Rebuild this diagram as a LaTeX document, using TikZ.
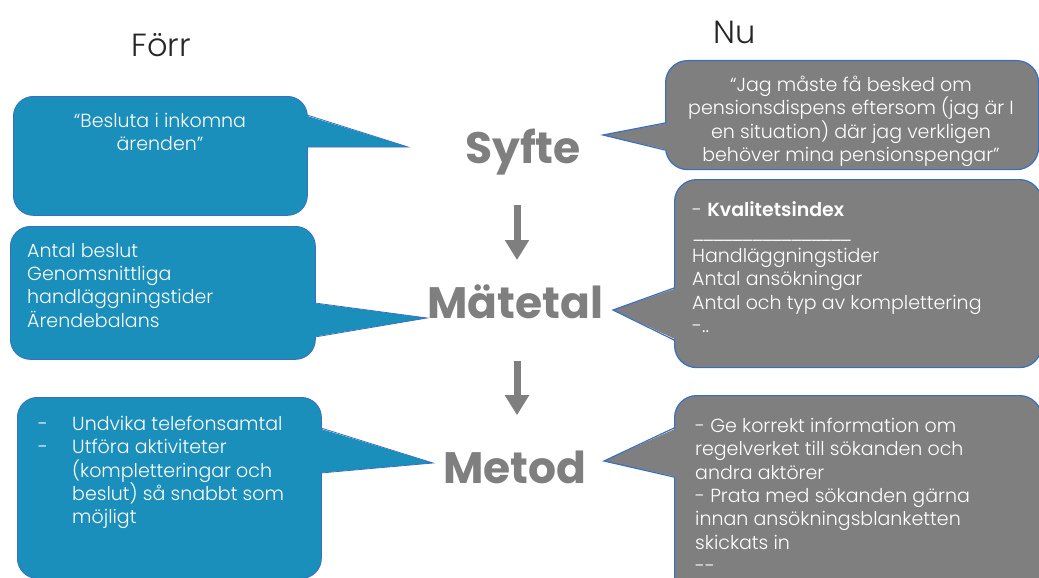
\documentclass[tikz,border=0pt]{standalone}
\usepackage{fontspec}
\setmainfont{Poppins}
\newfontfamily\lightfont{Poppins Light}
\usetikzlibrary{arrows.meta}
\definecolor{boxblue}{HTML}{1A8FBB}
\definecolor{boxgray}{HTML}{7F7F7F}
\definecolor{edgeblue}{HTML}{3A6FC0}
\definecolor{titlegray}{HTML}{7F7F7F}
\definecolor{headdark}{HTML}{262626}
\newcommand{\usc}{\_\kern-3pt}
\tikzset{
  bluebox/.style={fill=boxblue, draw=edgeblue, line width=0.8pt, rounded corners=20pt, anchor=north west, inner sep=0pt},
  graybox/.style={fill=boxgray, draw=edgeblue, line width=1.2pt, rounded corners=22pt, anchor=north west, inner sep=0pt},
  boxtext/.style={text=white, font=\lightfont\fontsize{19}{23.3}\selectfont, inner sep=0pt, align=left, anchor=north west},
  head/.style={text=headdark, font=\lightfont\fontsize{32}{36}\selectfont, inner sep=0pt, anchor=base},
  concept/.style={text=titlegray, font=\bfseries\fontsize{44}{48}\selectfont, inner sep=0pt, anchor=base},
  downarrow/.style={draw=titlegray, line width=7pt, -{Triangle[width=23pt,length=20pt]}},
}
\begin{document}
\begin{tikzpicture}[x=1pt,y=-1pt]
\useasboundingbox (0,0) rectangle (1039,578);

% headings
\node[head] (forr) at (161,57) {Förr};
\node[head] (nu) at (735,44) {Nu};

% central concepts
\node[concept] (syfte) at (523,163) {Syfte};
\node[concept] (matetal) at (515,318) {Mätetal};
\node[concept] (metod) at (515,483) {Metod};

\draw[downarrow] ([xshift=-6pt,yshift=-30pt]syfte.south) -- ([xshift=2pt,yshift=24pt]matetal.north);
\draw[downarrow] ([xshift=2pt,yshift=-42pt]matetal.south) -- ([xshift=2pt,yshift=35pt]metod.north);

% left boxes
\node[bluebox, minimum width=294pt, minimum height=119pt] (b1) at (13,96) {};
\fill[boxblue] (304,115) -- (408,147) -- (304,147) -- cycle;
\draw[edgeblue, line width=0.8pt] (307,115) -- (408,147) -- (307,147);
\node[boxtext, align=center, anchor=north] (t1) at (160,113) {“Besluta i inkomna\\ärenden”};

\node[bluebox, minimum width=305pt, minimum height=133pt] (b2) at (10,226) {};
\fill[boxblue] (312,303) -- (427,318) -- (312,337) -- cycle;
\draw[edgeblue, line width=0.8pt] (315,303) -- (427,318) -- (315,337);
\node[boxtext] (t2) at (27,243) {Antal beslut\\Genomsnittliga\\handläggningstider\\Ärendebalans};

\node[bluebox, minimum width=304pt, minimum height=181pt] (b3) at (17,397) {};
\fill[boxblue] (318,428) -- (433,463) -- (318,473) -- cycle;
\draw[edgeblue, line width=0.8pt] (321,428) -- (433,463) -- (321,473);
\node[boxtext] (t3) at (38,416) {\makebox[34pt][l]{-}Undvika telefonsamtal\\
\makebox[34pt][l]{-}Utföra aktiviteter\\
\hspace*{34pt}(kompletteringar och\\
\hspace*{34pt}beslut) så snabbt som\\
\hspace*{34pt}möjligt};

% right boxes
\node[graybox, minimum width=373pt, minimum height=109pt] (r1) at (665,60) {};
\fill[boxgray] (668,123) -- (603,135) -- (668,150) -- cycle;
\draw[edgeblue, line width=1.2pt] (665,123) -- (603,135) -- (665,150);
\node[boxtext, align=center, anchor=north] (u1) at (851,76) {“Jag måste få besked om\\pensionsdispens eftersom (jag är I\\en situation) där jag verkligen\\behöver mina pensionspengar”};

\node[graybox, minimum width=367pt, minimum height=188pt] (r2) at (674,179) {};
\fill[boxgray] (677,288) -- (613,310) -- (677,340) -- cycle;
\draw[edgeblue, line width=1.2pt] (674,288) -- (613,310) -- (674,340);
\node[boxtext] (u2) at (692,201) {- \textbf{Kvalitetsindex}\\\usc\usc\usc\usc\usc\usc\usc\usc\usc\usc\usc\usc\usc\usc\usc\_\\Handläggningstider\\Antal ansökningar\\Antal och typ av komplettering\\-..};

\node[graybox, minimum width=367pt, minimum height=220pt] (r3) at (674,395) {};
\fill[boxgray] (677,428) -- (604,461) -- (677,477) -- cycle;
\draw[edgeblue, line width=1.2pt] (674,428) -- (604,461) -- (674,477);
\node[boxtext] (u3) at (695,418) {- Ge korrekt information om\\regelverket till sökanden och\\andra aktörer\\- Prata med sökanden gärna\\innan ansökningsblanketten\\skickats in\\--};
\end{tikzpicture}
\end{document}
